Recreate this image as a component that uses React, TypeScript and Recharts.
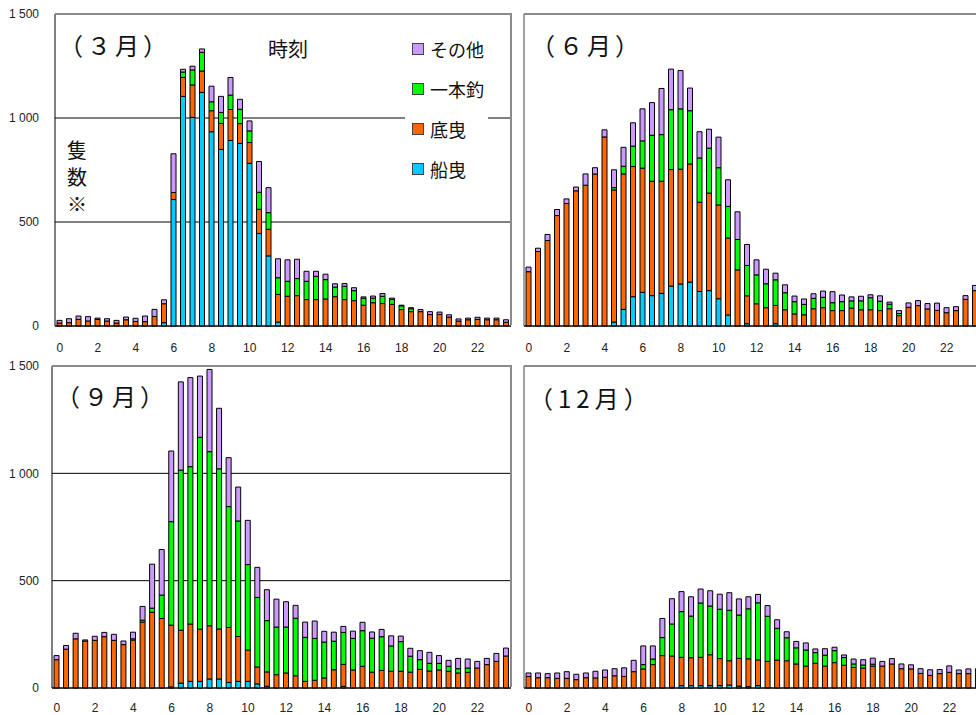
import React from 'react'
import { BarChart, Bar, XAxis, YAxis, CartesianGrid } from 'recharts'

// half-hour slots, 0:00 .. 23:30
const slots = [
  '0', '0.5', '1', '1.5', '2', '2.5', '3', '3.5', '4', '4.5', '5', '5.5',
  '6', '6.5', '7', '7.5', '8', '8.5', '9', '9.5', '10', '10.5', '11', '11.5',
  '12', '12.5', '13', '13.5', '14', '14.5', '15', '15.5', '16', '16.5', '17', '17.5',
  '18', '18.5', '19', '19.5', '20', '20.5', '21', '21.5', '22', '22.5', '23', '23.5',
]
const yTicks = [0, 500, 1000, 1500]
const yTickLabels: Record<number, string> = { 0: '0', 500: '500', 1000: '1 000', 1500: '1 500' }

// 3月
const marFunebiki = [0, 0, 0, 0, 0, 0, 0, 0, 0, 0, 0, 16, 608, 1104, 1003, 1123, 934, 849, 892, 878, 782, 445, 337, 19, 0, 0, 0, 0, 0, 0, 0, 0, 0, 0, 0, 0, 0, 0, 0, 0, 0, 0, 0, 0, 0, 0, 0, 0]
const marSokobiki = [14, 16, 32, 24, 32, 24, 14, 30, 22, 21, 46, 91, 34, 91, 156, 103, 101, 125, 149, 95, 100, 116, 128, 133, 143, 146, 127, 127, 130, 141, 127, 122, 100, 112, 108, 104, 79, 69, 69, 55, 56, 43, 24, 30, 32, 30, 30, 18]
const marIppon = [0, 0, 0, 0, 0, 0, 0, 0, 0, 0, 0, 0, 0, 26, 72, 90, 43, 53, 69, 69, 56, 82, 80, 80, 72, 82, 88, 112, 93, 46, 64, 48, 34, 22, 35, 24, 18, 14, 0, 0, 0, 0, 0, 0, 0, 0, 0, 0]
const marOther = [13, 19, 16, 21, 6, 11, 13, 13, 15, 27, 34, 19, 186, 13, 18, 16, 75, 77, 85, 48, 48, 148, 120, 91, 103, 93, 48, 24, 26, 16, 13, 14, 6, 10, 13, 6, 3, 5, 10, 14, 11, 11, 10, 8, 10, 8, 8, 12]

// 6月
const junFunebiki = [0, 0, 0, 0, 0, 0, 0, 0, 0, 19, 80, 141, 162, 146, 157, 192, 202, 211, 166, 170, 131, 53, 0, 11, 0, 0, 11, 0, 0, 0, 0, 0, 0, 0, 0, 0, 0, 0, 0, 0, 0, 0, 0, 0, 0, 0, 0, 0]
const junSokobiki = [261, 358, 411, 531, 589, 650, 677, 731, 909, 635, 651, 626, 597, 550, 539, 560, 552, 568, 429, 469, 451, 370, 270, 134, 107, 88, 88, 78, 58, 54, 83, 88, 74, 74, 86, 78, 78, 74, 83, 50, 90, 98, 82, 75, 64, 74, 128, 170]
const junIppon = [0, 0, 0, 0, 0, 0, 0, 0, 0, 11, 37, 98, 131, 221, 224, 288, 290, 256, 213, 216, 179, 152, 146, 146, 139, 115, 123, 82, 59, 50, 50, 50, 38, 43, 35, 43, 58, 45, 22, 10, 0, 0, 0, 0, 0, 0, 0, 0]
const junOther = [22, 16, 29, 29, 22, 18, 54, 30, 34, 86, 91, 112, 154, 157, 222, 195, 184, 109, 126, 91, 147, 128, 133, 101, 72, 70, 32, 38, 27, 26, 22, 30, 53, 32, 19, 22, 14, 26, 10, 14, 21, 24, 26, 35, 24, 19, 18, 25]

// 9月
const sepFunebiki = [0, 0, 0, 0, 0, 0, 0, 0, 0, 0, 0, 0, 5, 23, 31, 31, 42, 42, 26, 31, 31, 19, 8, 0, 0, 0, 0, 0, 0, 0, 8, 0, 0, 0, 0, 0, 0, 0, 0, 0, 0, 0, 0, 0, 0, 0, 0, 0]
const sepSokobiki = [132, 181, 229, 219, 222, 239, 222, 202, 223, 307, 353, 324, 288, 246, 267, 243, 248, 233, 256, 209, 146, 79, 67, 62, 70, 57, 31, 36, 47, 85, 102, 84, 101, 74, 82, 78, 78, 74, 87, 79, 84, 78, 70, 73, 93, 109, 124, 149]
const sepIppon = [0, 0, 0, 0, 0, 0, 0, 0, 6, 9, 19, 109, 482, 746, 733, 894, 811, 746, 563, 538, 398, 324, 239, 222, 214, 268, 205, 195, 167, 133, 149, 147, 166, 158, 157, 118, 138, 74, 45, 36, 31, 23, 20, 20, 0, 0, 0, 0]
const sepOther = [19, 17, 26, 5, 19, 20, 28, 17, 31, 64, 205, 212, 329, 411, 415, 285, 383, 282, 228, 158, 206, 140, 144, 130, 118, 60, 71, 81, 50, 42, 28, 34, 39, 29, 34, 47, 26, 37, 42, 51, 36, 28, 48, 42, 31, 29, 37, 37]

// 12月
const decFunebiki = [0, 0, 0, 0, 0, 0, 0, 0, 0, 0, 0, 0, 0, 0, 0, 3, 11, 11, 11, 11, 11, 14, 9, 6, 11, 0, 0, 0, 0, 0, 0, 0, 0, 0, 0, 0, 0, 0, 0, 0, 0, 0, 0, 0, 0, 0, 0, 0]
const decSokobiki = [54, 48, 48, 45, 45, 39, 48, 47, 50, 57, 54, 76, 89, 109, 151, 146, 132, 130, 132, 144, 126, 113, 129, 130, 120, 124, 130, 127, 112, 102, 115, 102, 118, 106, 96, 93, 102, 102, 112, 90, 89, 68, 59, 67, 73, 67, 67, 70]
const decIppon = [0, 0, 0, 0, 0, 0, 0, 0, 0, 0, 0, 0, 20, 26, 84, 149, 213, 194, 253, 227, 230, 235, 202, 233, 266, 210, 148, 107, 75, 75, 50, 51, 56, 36, 16, 14, 9, 0, 0, 0, 0, 0, 0, 0, 0, 0, 0, 0]
const decOther = [16, 22, 19, 25, 31, 25, 22, 31, 34, 33, 40, 53, 87, 61, 89, 118, 93, 90, 65, 71, 70, 82, 75, 56, 39, 50, 40, 28, 30, 33, 17, 30, 16, 12, 23, 25, 28, 22, 25, 22, 19, 22, 26, 19, 30, 17, 22, 20]

// stacked bottom to top
const seriesKeys = ['funebiki', 'sokobiki', 'ippon', 'other']
const seriesNames = ['船曳', '底曳', '一本釣', 'その他']
const seriesColors = ['#00CCFF', '#FF6600', '#00FF00', '#CC99FF']

const buildRows = (a: number[], b: number[], c: number[], d: number[]) =>
  slots.map((slot, i) => ({ slot, funebiki: a[i], sokobiki: b[i], ippon: c[i], other: d[i] }))

const marRows = buildRows(marFunebiki, marSokobiki, marIppon, marOther)
const junRows = buildRows(junFunebiki, junSokobiki, junIppon, junOther)
const sepRows = buildRows(sepFunebiki, sepSokobiki, sepIppon, sepOther)
const decRows = buildRows(decFunebiki, decSokobiki, decIppon, decOther)

const tickFont = '"Liberation Sans", Arial, sans-serif'
const jpFont = '"Noto Sans CJK JP", sans-serif'

type PanelProps = {
  rows: any[]
  left: number
  top: number
  width: number
  height: number
  yWidth: number
  xHeight: number
  showY: boolean
  yMargin: number
  xMargin: number
  axisColor: string
}

function Panel({ rows, left, top, width, height, yWidth, xHeight, showY, yMargin, xMargin, axisColor }: PanelProps) {
  const plotLeft = left + yWidth
  const plotTop = top + 14
  const plotW = width - yWidth - 9
  const plotH = height - 14 - xHeight
  return (
    <>
      <div style={{ position: 'absolute', left, top }}>
        <BarChart
          width={width}
          height={height}
          data={rows}
          margin={{ top: 14, right: 9, left: 0, bottom: 0 }}
          barSize={5}
        >
          <CartesianGrid vertical={false} stroke="#000" strokeWidth={1} />
          <XAxis
            dataKey="slot"
            interval={3}
            height={xHeight}
            tickLine={false}
            tickSize={0}
            tickMargin={xMargin}
            axisLine={{ stroke: '#000' }}
            tick={{ fontSize: 12, fill: '#222', fontFamily: tickFont }}
          />
          <YAxis
            domain={[0, 1500]}
            ticks={yTicks}
            width={yWidth}
            tickLine={false}
            tickSize={0}
            tickMargin={yMargin}
            axisLine={{ stroke: axisColor }}
            tick={showY ? { fontSize: 12, fill: '#222', fontFamily: tickFont } : false}
            tickFormatter={(v: number) => yTickLabels[v] ?? String(v)}
          />
          {seriesKeys.map((k, i) => (
            <Bar
              key={k}
              dataKey={k}
              name={seriesNames[i]}
              stackId="a"
              fill={seriesColors[i]}
              stroke="#000"
              strokeWidth={1}
              isAnimationActive={false}
            />
          ))}
        </BarChart>
      </div>
      <div
        style={{
          position: 'absolute',
          left: plotLeft,
          top: plotTop - 1,
          width: plotW + 1,
          height: plotH,
          borderTop: '2px solid #8a8a8a',
          borderRight: '2px solid #8a8a8a',
          boxSizing: 'border-box',
          pointerEvents: 'none',
        }}
      />
    </>
  )
}

function Title({ text, left, top, spacing }: { text: string; left: number; top: number; spacing: number }) {
  return (
    <div
      style={{
        position: 'absolute', left, top, fontSize: 24, lineHeight: '24px', letterSpacing: spacing,
        fontFamily: jpFont, color: '#111', whiteSpace: 'nowrap',
      }}
    >
      {text}
    </div>
  )
}

export default function App() {
  const legendOrder = [3, 2, 1, 0]
  return (
    <div style={{ position: 'absolute', left: 0, top: 0, width: 976, height: 715, overflow: 'hidden', background: '#fff' }}>
      <Panel rows={marRows} left={0} top={0} width={520} height={360} yWidth={55} xHeight={34} showY yMargin={16} xMargin={17} axisColor="#000" />
      <Panel rows={junRows} left={519} top={0} width={470} height={360} yWidth={5} xHeight={34} showY={false} yMargin={0} xMargin={17} axisColor="#444" />
      <Panel rows={sepRows} left={0} top={352} width={520} height={366} yWidth={52} xHeight={30} showY yMargin={13} xMargin={15} axisColor="#000" />
      <Panel rows={decRows} left={519} top={352} width={473} height={366} yWidth={5} xHeight={30} showY={false} yMargin={0} xMargin={15} axisColor="#444" />

      <Title text="（３月）" left={59} top={33} spacing={4} />
      <Title text="（６月）" left={531} top={33} spacing={4} />
      <Title text="（９月）" left={56} top={384} spacing={4} />
      <Title text="（12月）" left={529} top={386} spacing={5} />

      <div style={{ position: 'absolute', left: 268, top: 38, fontSize: 20, lineHeight: '22px', fontFamily: jpFont, color: '#111' }}>時刻</div>

      <div style={{ position: 'absolute', left: 67, top: 136, width: 20, fontSize: 20, lineHeight: '27px', textAlign: 'center', fontFamily: jpFont, color: '#111' }}>
        <div>隻</div>
        <div>数</div>
        <div>※</div>
      </div>

      <div style={{ position: 'absolute', left: 405, top: 30, width: 83, height: 158, background: '#fff' }}>
        {legendOrder.map((s, row) => (
          <div key={s} style={{ position: 'absolute', left: 7, top: 8 + row * 40, height: 22, display: 'flex', alignItems: 'center' }}>
            <div style={{ width: 10, height: 10, background: seriesColors[s], border: '1px solid #444' }} />
            <span style={{ marginLeft: 6, fontSize: 18, lineHeight: '22px', fontFamily: jpFont, color: '#111' }}>{seriesNames[s]}</span>
          </div>
        ))}
      </div>
    </div>
  )
}
